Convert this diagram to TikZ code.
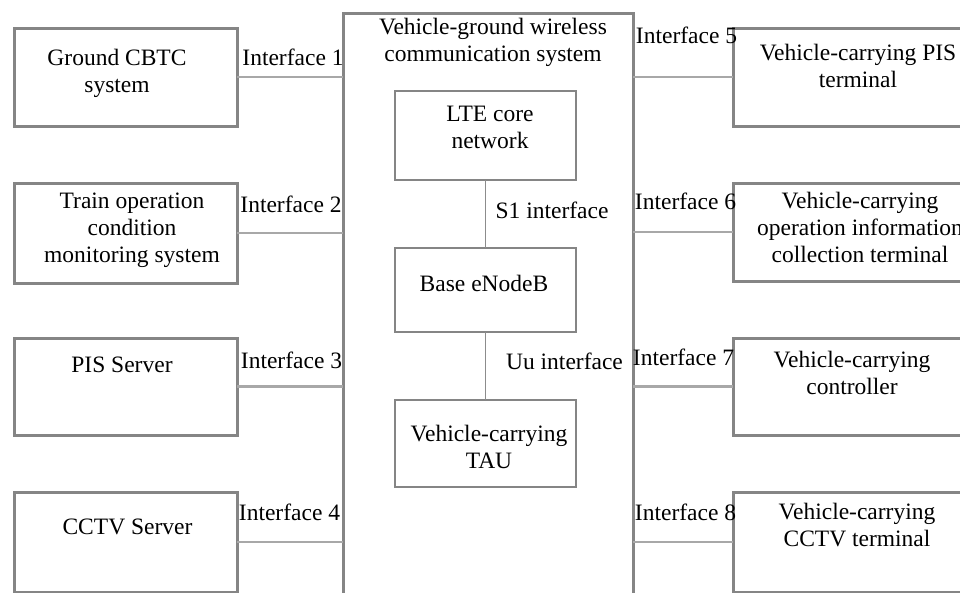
\documentclass[tikz,border=0pt]{standalone}
\usepackage{fontspec}
\setmainfont{Liberation Serif}
\definecolor{boxgray}{HTML}{858585}
\definecolor{linegray}{HTML}{A8A8A8}
\definecolor{vgray}{HTML}{8C8C8C}
\begin{document}
\begin{tikzpicture}[x=1pt,y=-1pt,
  box/.style={draw=boxgray, line width=3pt, inner sep=0pt, outer sep=0pt, fill=white},
  lbox/.style={box, minimum width=223pt},
  rbox/.style={box, minimum width=242pt},
  ibox/.style={box, line width=2.5pt, minimum width=181pt},
  txt/.style={font=\fontsize{23.5}{27}\selectfont, align=center, inner sep=0pt},
  conn/.style={draw=linegray, line width=2.5pt},
  vline/.style={draw=vgray, line width=1.5pt}]
\useasboundingbox (0,0) rectangle (960,592);
\clip (0,0) rectangle (960,592);
\fill[white] (0,0) rectangle (960,592);
% central system box
\node[box, minimum width=290pt, minimum height=600pt] (sys) at (488,313) {};
% left boxes
\node[lbox, minimum height=98pt] (g1) at (125.5,77) {};
\node[lbox, minimum height=100pt] (g2) at (125.5,233) {};
\node[lbox, minimum height=97pt] (g3) at (125.5,386.5) {};
\node[lbox, minimum height=100pt] (g4) at (125.5,542) {};
% right boxes
\node[rbox, minimum height=98pt] (v5) at (854,77) {};
\node[rbox, minimum height=98pt] (v6) at (854,232) {};
\node[rbox, minimum height=97pt] (v7) at (854,386.5) {};
\node[rbox, minimum height=100pt] (v8) at (854,542) {};
% inner boxes
\node[ibox, minimum height=89pt] (lte) at (485.5,135.5) {};
\node[ibox, minimum height=84pt] (enb) at (485.5,290) {};
\node[ibox, minimum height=87pt] (tau) at (485.5,443.5) {};
% connectors
\draw[conn] (g1.east) -- (g1.east -| sys.west);
\draw[conn] (g2.east) -- (g2.east -| sys.west);
\draw[conn] (g3.east) -- (g3.east -| sys.west);
\draw[conn] (g4.east) -- (g4.east -| sys.west);
\draw[conn] (v5.west -| sys.east) -- (v5.west);
\draw[conn] (v6.west -| sys.east) -- (v6.west);
\draw[conn] (v7.west -| sys.east) -- (v7.west);
\draw[conn] (v8.west -| sys.east) -- (v8.west);
\draw[vline] (lte.south) -- (enb.north);
\draw[vline] (enb.south) -- (tau.north);
% texts
\node[txt] (tsys) at (493,42) {Vehicle-ground wireless\\communication system};
\node[txt] (tg1) at (117,73) {Ground CBTC\\system};
\node[txt] (tg2) at (132,230) {Train operation\\condition\\monitoring system};
\node[txt] (tg3) at (122,365) {PIS Server};
\node[txt] (tg4) at (127.5,527) {CCTV Server};
\node[txt] (tv5) at (858,66) {Vehicle-carrying PIS\\terminal};
\node[txt] (tv6) at (860,227) {Vehicle-carrying\\operation information\\collection terminal};
\node[txt] (tv7) at (852,373) {Vehicle-carrying\\controller};
\node[txt] (tv8) at (857,525) {Vehicle-carrying\\CCTV terminal};
\node[txt] (tlte) at (490,127) {LTE core\\network};
\node[txt] (tenb) at (484,283) {Base eNodeB};
\node[txt] (ttau) at (489,447) {Vehicle-carrying\\TAU};
\node[txt] (ts1) at (552,210) {S1 interface};
\node[txt] (tuu) at (564.5,361) {Uu interface};
\node[txt] (i1) at (293,57) {Interface 1};
\node[txt] (i2) at (291,204) {Interface 2};
\node[txt] (i3) at (291.5,360) {Interface 3};
\node[txt] (i4) at (289.5,512) {Interface 4};
\node[txt] (i5) at (686.5,35) {Interface 5};
\node[txt] (i6) at (685.5,201) {Interface 6};
\node[txt] (i7) at (683.5,357) {Interface 7};
\node[txt] (i8) at (685.5,512) {Interface 8};
\end{tikzpicture}
\end{document}
